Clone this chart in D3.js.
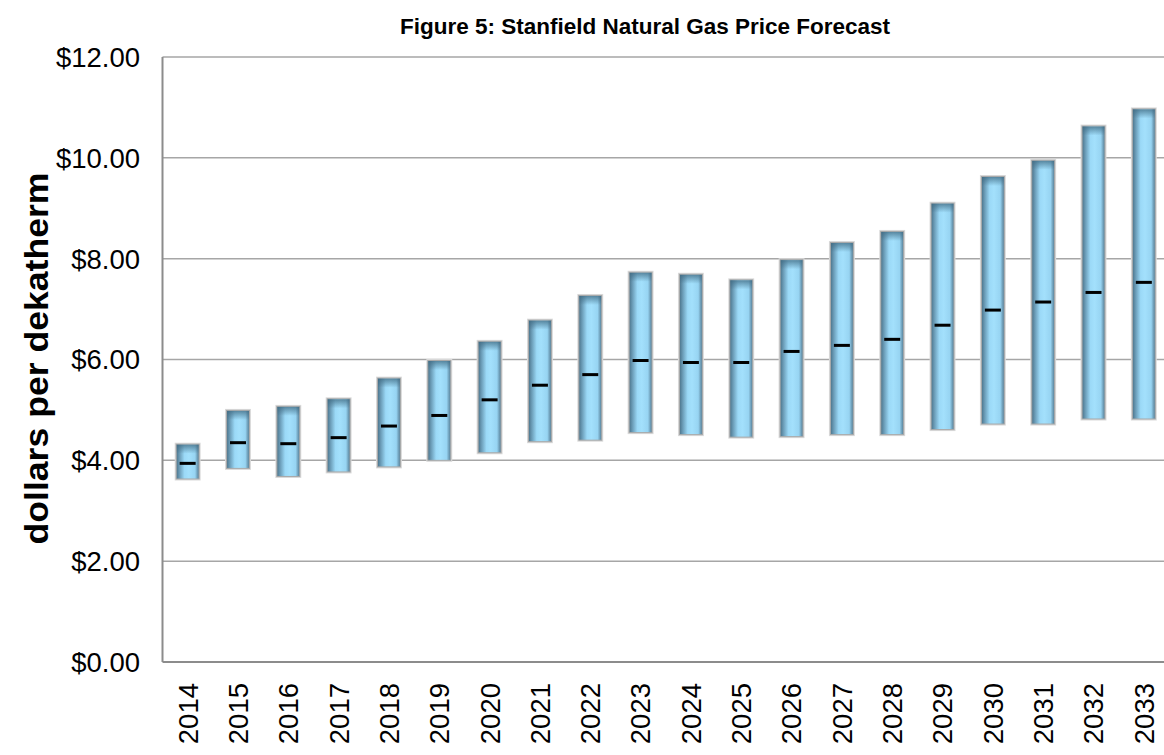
<!DOCTYPE html>
<html>
<head>
<meta charset="utf-8">
<script src="https://cdn.jsdelivr.net/npm/d3@7"></script>
<style>
  html, body { margin: 0; padding: 0; background: #fff; }
  svg { display: block; }
  text { font-family: "Liberation Sans", Arial, sans-serif; }
</style>
</head>
<body>
<div id="chart"></div>
<script>
// ---- data ----
const years = ["2014","2015","2016","2017","2018","2019","2020","2021","2022","2023",
               "2024","2025","2026","2027","2028","2029","2030","2031","2032","2033"];
const lowValues  = [3.63, 3.84, 3.68, 3.77, 3.87, 4.00, 4.15, 4.37, 4.40, 4.55,
                    4.51, 4.46, 4.47, 4.51, 4.51, 4.61, 4.72, 4.72, 4.82, 4.82];
const highValues = [4.32, 4.99, 5.07, 5.22, 5.63, 5.98, 6.36, 6.78, 7.27, 7.73,
                    7.69, 7.58, 7.98, 8.32, 8.54, 9.10, 9.63, 9.95, 10.63, 10.97];
const midValues  = [3.94, 4.35, 4.33, 4.45, 4.68, 4.89, 5.20, 5.49, 5.70, 5.98,
                    5.94, 5.94, 6.16, 6.28, 6.40, 6.68, 6.98, 7.14, 7.33, 7.53];
const yTicks = [0, 2, 4, 6, 8, 10, 12];
const titleText = "Figure 5: Stanfield Natural Gas Price Forecast";
const yAxisTitle = "dollars per dekatherm";

// ---- layout ----
const W = 1164, H = 755;
const plot = { left: 162.5, right: 1169, top: 57, bottom: 662 };

const svg = d3.select("#chart").append("svg")
  .attr("width", W).attr("height", H);

const defs = svg.append("defs");
const hg = defs.append("linearGradient").attr("id", "barH")
  .attr("x1", "0%").attr("x2", "100%").attr("y1", "0%").attr("y2", "0%");
[[0, "#4a7289"], [0.14, "#6a9bb6"], [0.36, "#9bd9f7"], [0.55, "#a3e0fc"],
 [0.82, "#97d4f2"], [0.93, "#6c9bb5"], [1, "#527c94"]].forEach(([o, c]) =>
  hg.append("stop").attr("offset", o).attr("stop-color", c));

const vg = defs.append("linearGradient").attr("id", "barTop")
  .attr("x1", "0%").attr("x2", "0%").attr("y1", "0%").attr("y2", "100%");
[[0, "#3f6a82", 0.75], [1, "#3f6a82", 0]].forEach(([o, c, op]) =>
  vg.append("stop").attr("offset", o).attr("stop-color", c).attr("stop-opacity", op));

const x = d3.scaleBand().domain(years)
  .range([plot.left, plot.right])
  .paddingInner(0.545).paddingOuter(0.2725);
const y = d3.scaleLinear().domain([0, 12]).range([plot.bottom, plot.top]);

// gridlines
svg.append("g").selectAll("line").data(yTicks.filter(d => d > 0)).join("line")
  .attr("x1", plot.left).attr("x2", plot.right)
  .attr("y1", d => y(d)).attr("y2", d => y(d))
  .attr("stroke", "#a6a6a6").attr("stroke-width", 1.5);

// axis lines
svg.append("line").attr("x1", plot.left).attr("x2", plot.left)
  .attr("y1", plot.top).attr("y2", plot.bottom)
  .attr("stroke", "#8c8c8c").attr("stroke-width", 2);
svg.append("line").attr("x1", plot.left).attr("x2", plot.right)
  .attr("y1", plot.bottom).attr("y2", plot.bottom)
  .attr("stroke", "#8c8c8c").attr("stroke-width", 2);

// bars
const idx = d3.range(years.length);
const bars = svg.append("g");
bars.selectAll("rect.shadow").data(idx).join("rect")
  .attr("class", "shadow")
  .attr("x", i => x(years[i]) - 1.5).attr("width", x.bandwidth() + 3)
  .attr("y", i => y(highValues[i]) - 1.5)
  .attr("height", i => y(lowValues[i]) - y(highValues[i]) + 3)
  .attr("fill", "#d9d9d9");
bars.selectAll("rect.bar").data(idx).join("rect")
  .attr("class", "bar")
  .attr("x", i => x(years[i])).attr("width", x.bandwidth())
  .attr("y", i => y(highValues[i]))
  .attr("height", i => y(lowValues[i]) - y(highValues[i]))
  .attr("fill", "url(#barH)")
  .attr("stroke", "#a9a9a9").attr("stroke-width", 1);
bars.selectAll("rect.top").data(idx).join("rect")
  .attr("class", "top")
  .attr("x", i => x(years[i]) + 0.5).attr("width", x.bandwidth() - 1)
  .attr("y", i => y(highValues[i]) + 0.5)
  .attr("height", 9)
  .attr("fill", "url(#barTop)");

// mid markers
svg.append("g").selectAll("line").data(idx).join("line")
  .attr("x1", i => x(years[i]) + x.bandwidth() / 2 - 8)
  .attr("x2", i => x(years[i]) + x.bandwidth() / 2 + 8)
  .attr("y1", i => y(midValues[i])).attr("y2", i => y(midValues[i]))
  .attr("stroke", "#000").attr("stroke-width", 3);

// y tick labels
svg.append("g").selectAll("text").data(yTicks).join("text")
  .attr("x", 140).attr("y", d => y(d)).attr("dy", "0.36em")
  .attr("text-anchor", "end")
  .attr("font-size", 27.5)
  .attr("fill", "#000")
  .text(d => "$" + d3.format(".2f")(d));

// x tick labels
svg.append("g").selectAll("text").data(years).join("text")
  .attr("transform", d => `translate(${x(d) + x.bandwidth() / 2},683) rotate(-90)`)
  .attr("dy", "0.36em")
  .attr("text-anchor", "end")
  .attr("font-size", 27.5)
  .attr("fill", "#000")
  .text(d => d);

// y axis title
svg.append("text")
  .attr("transform", `translate(36,${(plot.top + plot.bottom) / 2 - 1}) rotate(-90)`)
  .attr("dy", "0.36em")
  .attr("text-anchor", "middle")
  .attr("font-size", 33).attr("font-weight", "bold")
  .attr("textLength", 372).attr("lengthAdjust", "spacingAndGlyphs")
  .attr("fill", "#000")
  .text(yAxisTitle);

// title
svg.append("text")
  .attr("x", 645).attr("y", 34)
  .attr("text-anchor", "middle")
  .attr("font-size", 22.5).attr("font-weight", "bold")
  .attr("fill", "#000")
  .text(titleText);
</script>
</body>
</html>
